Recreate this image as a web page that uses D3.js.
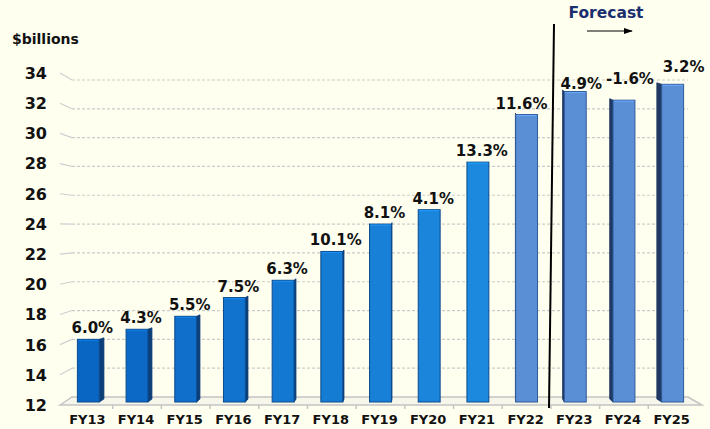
<!DOCTYPE html>
<html>
<head>
<meta charset="utf-8">
<script src="https://cdn.jsdelivr.net/npm/d3@7"></script>
<style>
body { margin: 0; background: #fffff0; }
text { font-family: "DejaVu Sans", Verdana, sans-serif; font-weight: bold; }
</style>
</head>
<body>
<div id="chart"></div>
<script>
// data
var years = ["FY13", "FY14", "FY15", "FY16", "FY17", "FY18", "FY19", "FY20", "FY21", "FY22", "FY23", "FY24", "FY25"];
var spending = [16.0, 16.7, 17.6, 18.9, 20.1, 22.1, 24.0, 25.0, 28.3, 31.6, 33.2, 32.6, 33.7];
var growth = ["6.0%", "4.3%", "5.5%", "7.5%", "6.3%", "10.1%", "8.1%", "4.1%", "13.3%", "11.6%", "4.9%", "-1.6%", "3.2%"];
var yTicks = [12, 14, 16, 18, 20, 22, 24, 26, 28, 30, 32, 34];

var width = 710, height = 429;

var svg = d3.select("#chart")
  .append("svg")
    .attr("width", width)
    .attr("height", height);

svg.append("rect")
  .attr("width", width)
  .attr("height", height)
  .attr("fill", "#fffff0");

// back wall scale (gridlines, bars) and front scale (tick labels)
var y = d3.scaleLinear().domain([12, 34]).range([397, 80]);
var yFront = d3.scaleLinear().domain([12, 34]).range([405, 73]);

var x = d3.scaleBand()
  .domain(years)
  .range([64, 697])
  .paddingInner(0.55)
  .paddingOuter(0.275);

var defs = svg.append("defs");
defs.append("marker")
  .attr("id", "arrow")
  .attr("viewBox", "0 0 10 10")
  .attr("refX", 9).attr("refY", 5)
  .attr("markerWidth", 9).attr("markerHeight", 9)
  .attr("orient", "auto")
  .append("path")
    .attr("d", "M0,1.5 L10,5 L0,8.5 Z")
    .attr("fill", "#000");

// gridlines with the little perspective step at the left wall
var grid = svg.append("g");
yTicks.filter(function(d) { return d > 12; }).forEach(function(v) {
  grid.append("line")
    .attr("x1", 60).attr("y1", yFront(v))
    .attr("x2", 72).attr("y2", y(v))
    .attr("stroke", "#cfcfcf")
    .attr("stroke-width", 1.2);
  grid.append("line")
    .attr("x1", 72).attr("y1", y(v))
    .attr("x2", 688).attr("y2", y(v))
    .attr("stroke", "#cbcbcb")
    .attr("stroke-width", 1.2)
    .attr("stroke-dasharray", "3,2");
});

// floor
var floor = svg.append("g")
  .attr("stroke", "#c4c4c4")
  .attr("stroke-width", 1.5)
  .attr("fill", "none");
floor.append("path")
  .attr("d", "M60," + yFront(12) + " L72," + y(12) + " L688," + y(12) + " L702," + yFront(12) + " Z")
  .attr("fill", "#f6f6ea");
years.slice(1).forEach(function(d) {
  var bx = x(d) - x.step() * x.paddingInner() / 2;
  floor.append("line")
    .attr("x1", bx).attr("x2", bx)
    .attr("y1", yFront(12)).attr("y2", yFront(12) + 4);
});

// y axis labels
svg.append("g")
  .attr("transform", "translate(47,0)")
  .call(d3.axisLeft(yFront).tickValues(yTicks).tickSize(0).tickPadding(0))
  .call(function(g) { g.select(".domain").remove(); })
  .selectAll("text")
    .attr("dy", "0.34em")
    .attr("fill", "#111")
    .style("font-size", "16px")
    .style("font-family", "DejaVu Sans, Verdana, sans-serif")
    .style("font-weight", "bold");

svg.append("text")
  .attr("x", 12)
  .attr("y", 44)
  .style("font-size", "14px")
  .attr("fill", "#111")
  .text("$billions");

// bars
var blueColor = d3.scaleLinear().domain([0, 8]).range(["#0a66c3", "#1c89de"]);
function frontColor(i) { return i < 9 ? blueColor(i) : "#5b8fd5"; }
function edgeColor(i) { return i < 9 ? "#0b4a8c" : "#2d5a9a"; }
function sideColor(i) { return i < 9 ? "#0c3f78" : "#1f3963"; }
function sideDepth(cx) {
  if (cx < 420) return (420 - cx) * 0.014;
  if (cx > 520) return -(cx - 520) * 0.032;
  return 0;
}

var barBottom = 402;
var bars = svg.append("g");
years.forEach(function(d, i) {
  var x0 = x(d), w = x.bandwidth(), cx = x0 + w / 2;
  var top = y(spending[i]);
  var dd = sideDepth(cx);
  if (dd !== 0) {
    var ex = dd > 0 ? x0 + w : x0;
    bars.append("path")
      .attr("d", "M" + ex + "," + top + " L" + (ex + dd) + "," + (top - 1.5) +
                 " L" + (ex + dd) + "," + (barBottom - 3) + " L" + ex + "," + barBottom + " Z")
      .attr("fill", sideColor(i))
      .attr("stroke", sideColor(i))
      .attr("stroke-width", 0.8);
  }
  bars.append("rect")
    .attr("x", x0)
    .attr("y", top)
    .attr("width", w)
    .attr("height", barBottom - top)
    .attr("fill", frontColor(i))
    .attr("stroke", edgeColor(i))
    .attr("stroke-width", 1);
  bars.append("line")
    .attr("x1", x0 + 1).attr("x2", x0 + w - 1)
    .attr("y1", top + 1).attr("y2", top + 1)
    .attr("stroke", d3.color(frontColor(i)).brighter(0.5))
    .attr("stroke-width", 1);
});

// growth labels (a few were nudged by hand in the original)
var labelShift = { FY22: [-9, 0], FY23: [2, 3], FY24: [2, -10], FY25: [7, -6] };
svg.append("g").selectAll("text")
  .data(years)
  .enter()
  .append("text")
    .attr("x", function(d) { return x(d) + x.bandwidth() / 2 + 4 + (labelShift[d] ? labelShift[d][0] : 0); })
    .attr("y", function(d, i) { return y(spending[i]) - 6 + (labelShift[d] ? labelShift[d][1] : 0); })
    .attr("text-anchor", "middle")
    .style("font-size", "15px")
    .attr("fill", "#111")
    .text(function(d, i) { return growth[i]; });

// x axis labels
svg.append("g").selectAll("text")
  .data(years)
  .enter()
  .append("text")
    .attr("x", function(d) { return x(d) + x.bandwidth() / 2 - 1; })
    .attr("y", 424)
    .attr("text-anchor", "middle")
    .style("font-size", "13px")
    .attr("fill", "#111")
    .text(function(d) { return d; });

// forecast divider
svg.append("line")
  .attr("x1", 554).attr("y1", 24)
  .attr("x2", 549).attr("y2", 408)
  .attr("stroke", "#000")
  .attr("stroke-width", 2);

svg.append("text")
  .attr("x", 606)
  .attr("y", 18)
  .attr("text-anchor", "middle")
  .style("font-size", "15.5px")
  .attr("fill", "#1b2f6e")
  .text("Forecast");

svg.append("line")
  .attr("x1", 587).attr("y1", 31)
  .attr("x2", 632).attr("y2", 31)
  .attr("stroke", "#000")
  .attr("stroke-width", 1)
  .attr("marker-end", "url(#arrow)");
</script>
</body>
</html>
